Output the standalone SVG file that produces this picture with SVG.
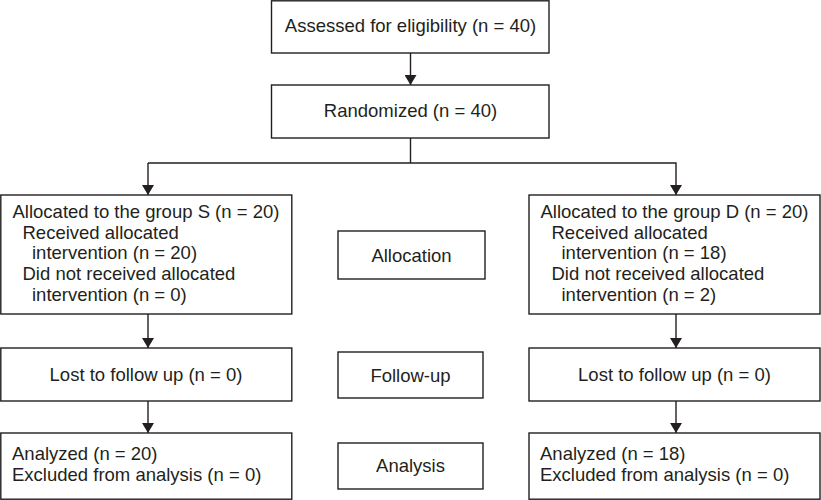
<svg xmlns="http://www.w3.org/2000/svg" width="821" height="500" viewBox="0 0 821 500">
<defs>
<marker id="ah" markerWidth="10" markerHeight="12" refX="10" refY="6" orient="auto" markerUnits="userSpaceOnUse">
<path d="M0,0 L10,6 L0,12 Z" fill="#231f20"/>
</marker>
</defs>
<style>
.box{fill:#fff;stroke:#231f20;stroke-width:1.4}
.t{font-family:"Liberation Sans",Arial,sans-serif;font-size:18.5px;fill:#231f20}
.c{text-anchor:middle}
.ln{fill:none;stroke:#231f20;stroke-width:1.4}
</style>
<rect width="821" height="500" fill="#fff"/>
<g id="connectors">
<line class="ln" x1="410.5" y1="53" x2="410.5" y2="85" marker-end="url(#ah)"/>
<polyline class="ln" points="410.5,138 410.5,163"/>
<polyline class="ln" points="148,163 676,163 676,195" marker-end="url(#ah)"/>
<line class="ln" x1="148" y1="163" x2="148" y2="195" marker-end="url(#ah)"/>
<line class="ln" x1="148" y1="314" x2="148" y2="348" marker-end="url(#ah)"/>
<line class="ln" x1="676" y1="314" x2="676" y2="348" marker-end="url(#ah)"/>
<line class="ln" x1="148" y1="401" x2="148" y2="433" marker-end="url(#ah)"/>
<line class="ln" x1="676" y1="401" x2="676" y2="433" marker-end="url(#ah)"/>
</g>
<g id="assessed">
<rect class="box" x="271.5" y="0.8" width="277.5" height="52.2"/>
<text class="t c" x="410.5" y="32">Assessed for eligibility (n = 40)</text>
</g>
<g id="randomized">
<rect class="box" x="271.5" y="85" width="277.5" height="53"/>
<text class="t c" x="410.5" y="117">Randomized (n = 40)</text>
</g>
<g id="allocS">
<rect class="box" x="0.8" y="195" width="291" height="119"/>
<text class="t" x="12.5" y="218">Allocated to the group S (n = 20)</text>
<text class="t" x="22.5" y="238.5">Received allocated</text>
<text class="t" x="32" y="259">intervention (n = 20)</text>
<text class="t" x="22.5" y="280">Did not received allocated</text>
<text class="t" x="32" y="301">intervention (n = 0)</text>
</g>
<g id="allocD">
<rect class="box" x="529" y="195" width="291" height="119"/>
<text class="t" x="540.5" y="218">Allocated to the group D (n = 20)</text>
<text class="t" x="551.5" y="238.5">Received allocated</text>
<text class="t" x="561.5" y="259">intervention (n = 18)</text>
<text class="t" x="551.5" y="280">Did not received allocated</text>
<text class="t" x="561.5" y="301">intervention (n = 2)</text>
</g>
<g id="allocation">
<rect class="box" x="338" y="231" width="147" height="48"/>
<text class="t c" x="411.5" y="262">Allocation</text>
</g>
<g id="lostS">
<rect class="box" x="0.8" y="348" width="291" height="53"/>
<text class="t c" x="146" y="381">Lost to follow up (n = 0)</text>
</g>
<g id="followup">
<rect class="box" x="338" y="352" width="145" height="46"/>
<text class="t c" x="410.5" y="382">Follow-up</text>
</g>
<g id="lostD">
<rect class="box" x="529" y="348" width="291" height="53"/>
<text class="t c" x="674.5" y="381">Lost to follow up (n = 0)</text>
</g>
<g id="analyzedS">
<rect class="box" x="0.8" y="433" width="291" height="66.2"/>
<text class="t" x="12" y="460">Analyzed (n = 20)</text>
<text class="t" x="12" y="481">Excluded from analysis (n = 0)</text>
</g>
<g id="analysis">
<rect class="box" x="338" y="443" width="145" height="46"/>
<text class="t c" x="410.5" y="472">Analysis</text>
</g>
<g id="analyzedD">
<rect class="box" x="529" y="433" width="291" height="66.2"/>
<text class="t" x="540" y="460">Analyzed (n = 18)</text>
<text class="t" x="540" y="481">Excluded from analysis (n = 0)</text>
</g>
</svg>
